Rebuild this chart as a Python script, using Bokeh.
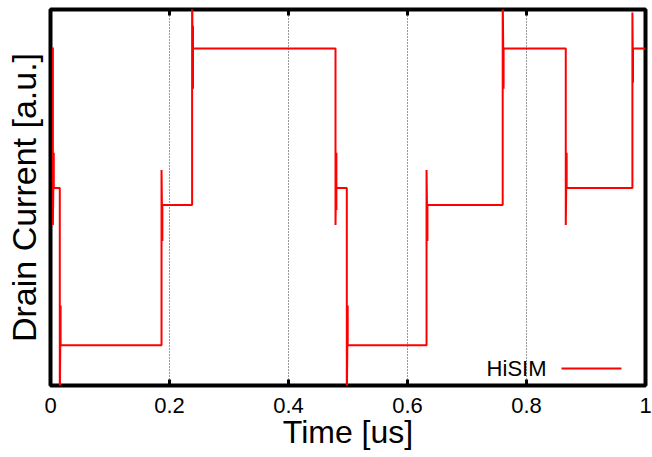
from bokeh.plotting import figure
from bokeh.models import (Range1d, FixedTicker, Label, BoxAnnotation,
                          ColumnDataSource)
from bokeh.embed import file_html
from bokeh.resources import INLINE

# ---- data ----
time_us = [0.0040, 0.0040, 0.0055, 0.0055, 0.0156, 0.0156, 0.0170, 0.0170,
           0.1866, 0.1866, 0.1880, 0.1880, 0.2380, 0.2380, 0.2395, 0.2395,
           0.2395, 0.4790, 0.4790, 0.4805, 0.4805, 0.4805, 0.4980, 0.4980,
           0.4995, 0.4995, 0.6320, 0.6320, 0.6335, 0.6335, 0.7600, 0.7600,
           0.7615, 0.7615, 0.8660, 0.8660, 0.8675, 0.8675, 0.9780, 0.9780,
           0.9790, 0.9790, 1.0000]
drain_current = [0.899, 0.427, 0.619, 0.525, 0.525, -0.05, 0.213, 0.107,
                 0.107, 0.573, 0.384, 0.480, 0.480, 1.05, 0.789, 0.957,
                 0.896, 0.896, 0.427, 0.619, 0.467, 0.525, 0.525, -0.05,
                 0.213, 0.107, 0.107, 0.573, 0.384, 0.480, 0.480, 1.05,
                 0.789, 0.896, 0.896, 0.427, 0.619, 0.525, 0.525, 0.992,
                 0.805, 0.896, 0.896]
x_ticks = [0, 0.2, 0.4, 0.6, 0.8, 1]
x_tick_labels = {0: "0", 0.2: "0.2", 0.4: "0.4", 0.6: "0.6", 0.8: "0.8", 1: "1"}
grid_ticks = [0.2, 0.4, 0.6, 0.8]
series_name = "HiSIM"

FONT = "Liberation Sans"

p = figure(width=652, height=457, x_range=Range1d(0, 1), y_range=Range1d(0, 1),
           output_backend="svg", toolbar_location=None,
           min_border_left=50, min_border_right=7, min_border_top=9,
           min_border_bottom=72)
p.background_fill_color = "white"
p.border_fill_color = "white"
p.outline_line_color = "black"
p.outline_line_width = 4

src = ColumnDataSource(data=dict(t=time_us, i=drain_current))
r = p.line("t", "i", source=src, line_color="#ff0000", line_width=2)

# x axis (bottom)
xa = p.xaxis[0]
xa.ticker = FixedTicker(ticks=x_ticks)
xa.major_label_overrides = x_tick_labels
xa.axis_line_color = None
xa.major_tick_in = 6
xa.major_tick_out = 0
xa.major_tick_line_width = 3
xa.minor_tick_line_color = None
xa.major_label_text_font = FONT
xa.major_label_text_font_size = "22px"
xa.major_label_text_color = "black"
xa.major_label_standoff = 12
xa.axis_label = "Time [us]"
xa.axis_label_text_font = FONT
xa.axis_label_text_font_size = "32px"
xa.axis_label_text_font_style = "normal"
xa.axis_label_text_color = "black"
xa.axis_label_standoff = -2

# inward tick marks on the top edge
tick_src = ColumnDataSource(data=dict(x=x_ticks, y=[1] * len(x_ticks)))
p.rect("x", "y", source=tick_src, width=3, height=12, width_units="screen",
       height_units="screen", fill_color="black", line_color=None)

# y axis (no ticks / labels)
ya = p.yaxis[0]
ya.ticker = FixedTicker(ticks=[])
ya.axis_line_color = None
ya.major_tick_line_color = None
ya.minor_tick_line_color = None
ya.major_label_standoff = 0
ya.axis_label = "Drain Current [a.u.]"
ya.axis_label_text_font = FONT
ya.axis_label_text_font_size = "34px"
ya.axis_label_text_font_style = "normal"
ya.axis_label_text_color = "black"
ya.axis_label_standoff = 8

# grid
p.xgrid.ticker = FixedTicker(ticks=grid_ticks)
p.xgrid.grid_line_color = "black"
p.xgrid.grid_line_dash = "1 2"
p.xgrid.grid_line_width = 1
p.xgrid.grid_line_alpha = 0.8
p.ygrid.grid_line_color = None

# key: text on the left, sample line on the right (gnuplot style)
p.add_layout(BoxAnnotation(left=511, right=571, bottom=16, top=18,
                           left_units="screen", right_units="screen",
                           bottom_units="screen", top_units="screen",
                           fill_color="#ff0000", fill_alpha=1.0,
                           line_color=None))
p.add_layout(Label(x=496, y=17, x_units="screen", y_units="screen",
                   text=series_name, text_font=FONT, text_font_size="22px",
                   text_align="right", text_baseline="middle",
                   text_color="black"))

open("out.html", "w").write(file_html(p, INLINE))
